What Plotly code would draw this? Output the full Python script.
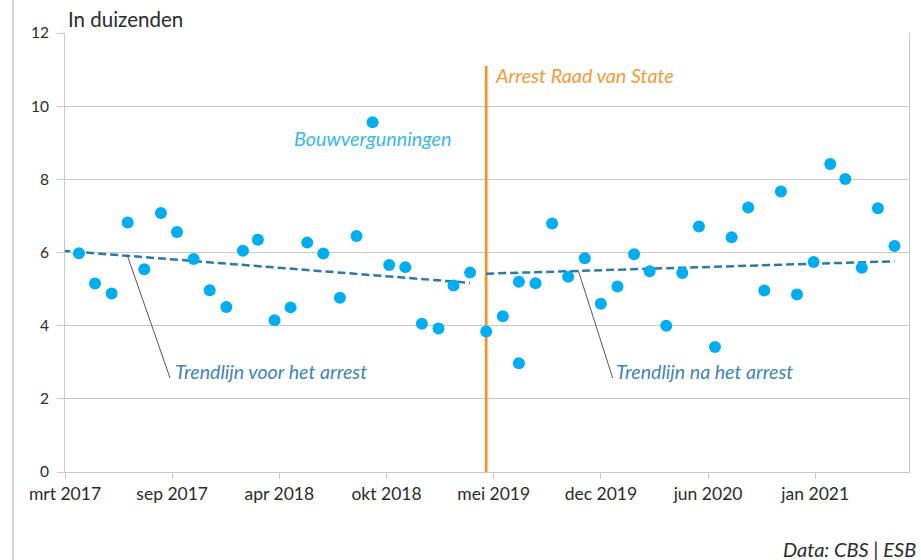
import plotly.graph_objects as go

# Maandelijkse bouwvergunningen (x 1000); juli 2019 komt twee keer voor
maanden = [
    "2017-04", "2017-05", "2017-06", "2017-07", "2017-08", "2017-09", "2017-10", "2017-11", "2017-12",
    "2018-01", "2018-02", "2018-03", "2018-04", "2018-05", "2018-06", "2018-07", "2018-08", "2018-09",
    "2018-10", "2018-11", "2018-12",
    "2019-01", "2019-02", "2019-03", "2019-04", "2019-05", "2019-06", "2019-07", "2019-07", "2019-08",
    "2019-09", "2019-10", "2019-11", "2019-12",
    "2020-01", "2020-02", "2020-03", "2020-04", "2020-05", "2020-06", "2020-07", "2020-08", "2020-09",
    "2020-10", "2020-11", "2020-12",
    "2021-01", "2021-02", "2021-03", "2021-04", "2021-05", "2021-06",
]
vergunningen = [
    5.98, 5.15, 4.88, 6.82, 5.54, 7.08, 6.56, 5.82, 4.97,
    4.51, 6.05, 6.35, 4.15, 4.50, 6.27, 5.97, 4.76, 6.45, 9.56, 5.66, 5.60,
    4.05, 3.92, 5.10, 5.45, 3.84, 4.26, 5.20, 2.97, 5.16, 6.79, 5.34, 5.84, 4.60,
    5.07, 5.95, 5.49, 4.00, 5.44, 6.71, 3.42, 6.42, 7.23, 4.96, 7.67, 4.85,
    5.74, 8.42, 8.01, 5.58, 7.21, 6.18,
]

# Trendlijnen voor en na het arrest (begin- en eindpunt)
trend_voor_x = ["2017-03-01", "2019-04-01"]
trend_voor_y = [6.05, 5.17]
trend_na_x = ["2019-05-01", "2021-06-01"]
trend_na_y = [5.42, 5.76]

# Arrest Raad van State
arrest_datum = "2019-05-01"
arrest_hoogte = [0, 11.1]

# Verwijslijntjes naar de labels van de trendlijnen
verwijs_voor_x = ["2017-06-30", "2017-09-18"]
verwijs_voor_y = [5.93, 2.57]
verwijs_na_x = ["2019-10-20", "2019-12-23"]
verwijs_na_y = [5.50, 2.57]

# Asindeling (om de 200 dagen)
tick_datums = ["2017-03-06", "2017-09-22", "2018-04-10", "2018-10-27",
               "2019-05-15", "2019-12-01", "2020-06-18", "2021-01-04"]
tick_labels = ["mrt 2017", "sep 2017", "apr 2018", "okt 2018",
               "mei 2019", "dec 2019", "jun 2020", "jan 2021"]
y_ticks = [0, 2, 4, 6, 8, 10, 12]

BLAUW = "#00aeef"
TREND = "#2f77a8"
TREND_TEKST = "#3f84b5"
ORANJE = "#f7941d"
GRIJS = "#c8c8c8"
TEKST = "#2b2b2b"
FONT = "Lato"

fig = go.Figure()

fig.add_trace(go.Scatter(
    x=[arrest_datum, arrest_datum], y=arrest_hoogte, mode="lines",
    line=dict(color=ORANJE, width=2.7), hoverinfo="skip"))

fig.add_trace(go.Scatter(
    x=trend_voor_x, y=trend_voor_y, mode="lines",
    line=dict(color=TREND, width=2.5, dash="8px,4px"), hoverinfo="skip"))
fig.add_trace(go.Scatter(
    x=trend_na_x, y=trend_na_y, mode="lines",
    line=dict(color=TREND, width=2.5, dash="8px,4px"), hoverinfo="skip"))

for vx, vy in ((verwijs_voor_x, verwijs_voor_y), (verwijs_na_x, verwijs_na_y)):
    fig.add_trace(go.Scatter(
        x=vx, y=vy, mode="lines",
        line=dict(color="#555555", width=1), hoverinfo="skip"))

fig.add_trace(go.Scatter(
    x=maanden, y=vergunningen, mode="markers",
    marker=dict(color=BLAUW, size=12, line=dict(width=0)),
    cliponaxis=False))

italic = dict(family=FONT, style="italic")

fig.add_annotation(x="2018-10-02", y=9.13, text="Bouwvergunningen", showarrow=False,
                   xanchor="center", yanchor="middle",
                   font=dict(**italic, size=19.8, color="#3ab8ee"))
fig.add_annotation(x="2019-05-13", y=10.86, text="Arrest Raad van State", showarrow=False,
                   xanchor="left", yanchor="middle",
                   font=dict(**italic, size=19.8, color="#f59a3a"))
fig.add_annotation(x="2017-09-23", y=2.76, text="Trendlijn voor het arrest", showarrow=False,
                   xanchor="left", yanchor="middle",
                   font=dict(**italic, size=19.6, color=TREND_TEKST))
fig.add_annotation(x="2019-12-25", y=2.76, text="Trendlijn na het arrest", showarrow=False,
                   xanchor="left", yanchor="middle",
                   font=dict(**italic, size=19.6, color=TREND_TEKST))

fig.add_annotation(xref="paper", yref="paper", x=0.001, y=1.0, yshift=14,
                   text="In duizenden", showarrow=False, xanchor="left", yanchor="middle",
                   font=dict(family=FONT, size=20.5, color=TEKST))
fig.add_annotation(xref="paper", yref="paper", x=1.0, y=-0.175, xshift=9,
                   text="Data: CBS | ESB", showarrow=False, xanchor="right", yanchor="middle",
                   font=dict(**italic, size=20, color=TEKST))

# Kaderlijn links van de grafiek
fig.add_shape(type="line", xref="paper", yref="paper", x0=-0.0616, x1=-0.0616,
              y0=-0.21, y1=1.08, line=dict(color="#d4d4d4", width=2), layer="below")

fig.update_layout(
    width=921, height=560,
    margin=dict(l=65, r=12, t=33, b=88),
    paper_bgcolor="white", plot_bgcolor="white",
    showlegend=False,
    font=dict(family=FONT, color=TEKST),
    xaxis=dict(
        type="date", range=["2017-03-06", "2021-06-28"],
        tickmode="array", tickvals=tick_datums, ticktext=tick_labels,
        showgrid=False, zeroline=False,
        showline=True, linecolor=GRIJS, linewidth=1,
        ticks="outside", ticklen=6, tickcolor=GRIJS,
        tickfont=dict(family=FONT, size=17.5, color=TEKST),
    ),
    yaxis=dict(
        range=[0, 12], tickmode="array", tickvals=y_ticks,
        showgrid=True, gridcolor=GRIJS, gridwidth=1, zeroline=False,
        showline=True, mirror=True, linecolor=GRIJS, linewidth=1,
        ticks="outside", ticklen=7, tickcolor=GRIJS, ticklabelstandoff=5,
        tickfont=dict(family=FONT, size=15.5, color=TEKST),
    ),
)

fig.write_html("out.html")
